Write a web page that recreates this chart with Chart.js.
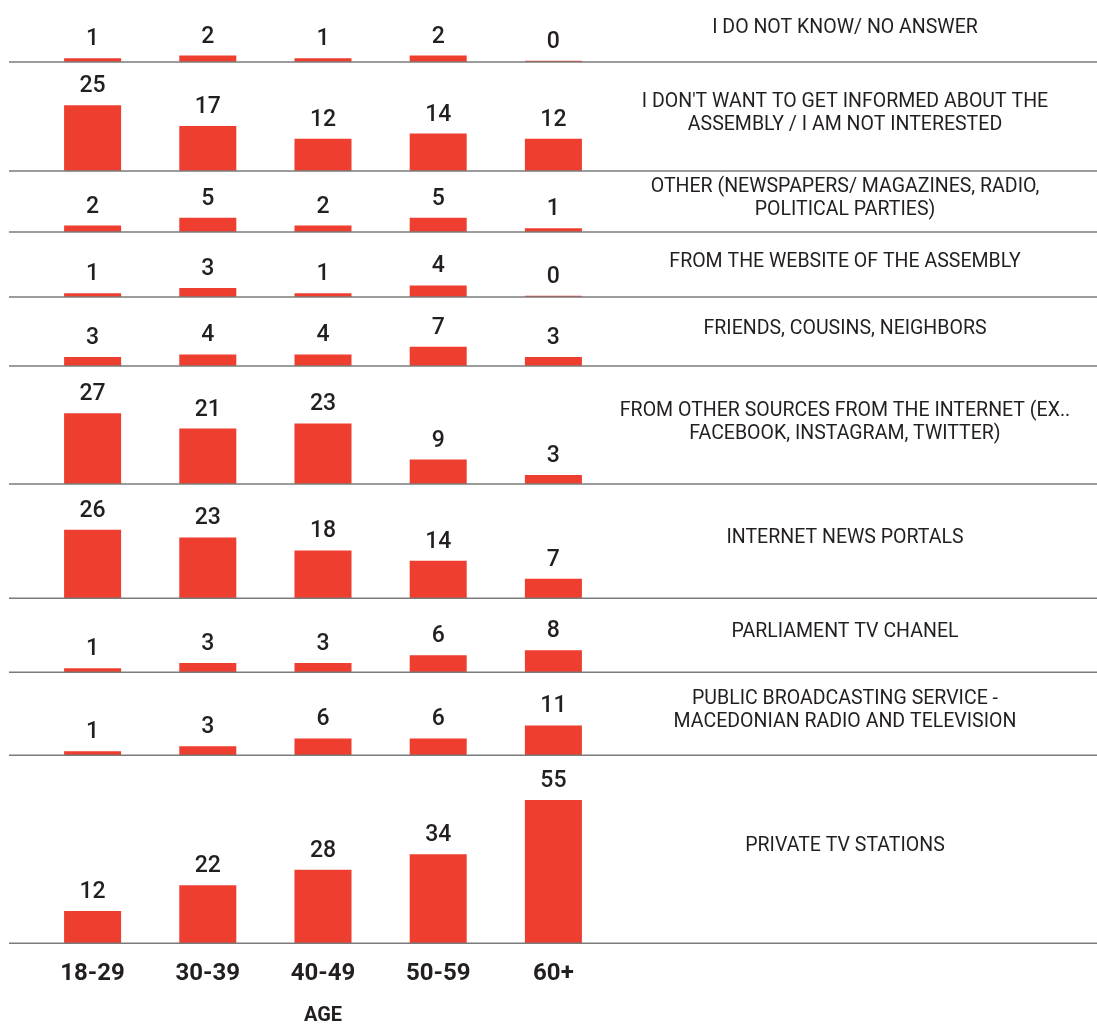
<!DOCTYPE html>
<html>
<head>
<meta charset="utf-8">
<script src="https://cdn.jsdelivr.net/npm/chart.js@4.4.1/dist/chart.umd.min.js"></script>
<style>
  html, body { margin: 0; padding: 0; background: #fff; }
  #wrap { width: 1097px; height: 1028px; }
</style>
</head>
<body>
<div id="wrap"><canvas id="grafico"></canvas></div>
<script>
// age groups on the x axis
const ageGroups = ['18-29', '30-39', '40-49', '50-59', '60+'];

// one row per source, top to bottom
const sources = [
    ['I DO NOT KNOW/ NO ANSWER'],
    ["I DON'T WANT TO GET INFORMED ABOUT THE", 'ASSEMBLY / I AM NOT INTERESTED'],
    ['OTHER (NEWSPAPERS/ MAGAZINES, RADIO,', 'POLITICAL PARTIES)'],
    ['FROM THE WEBSITE OF THE ASSEMBLY'],
    ['FRIENDS, COUSINS, NEIGHBORS'],
    ['FROM OTHER SOURCES FROM THE INTERNET (EX..', 'FACEBOOK, INSTAGRAM, TWITTER)'],
    ['INTERNET NEWS PORTALS'],
    ['PARLIAMENT TV CHANEL'],
    ['PUBLIC BROADCASTING SERVICE -', 'MACEDONIAN RADIO AND TELEVISION'],
    ['PRIVATE TV STATIONS']
];

const noAnswer     = [1, 2, 1, 2, 0];
const notInterest  = [25, 17, 12, 14, 12];
const other        = [2, 5, 2, 5, 1];
const website      = [1, 3, 1, 4, 0];
const friends      = [3, 4, 4, 7, 3];
const socialMedia  = [27, 21, 23, 9, 3];
const newsPortals  = [26, 23, 18, 14, 7];
const parliamentTv = [1, 3, 3, 6, 8];
const publicTv     = [1, 3, 6, 6, 11];
const privateTv    = [12, 22, 28, 34, 55];

const rows = [noAnswer, notInterest, other, website, friends,
              socialMedia, newsPortals, parliamentTv, publicTv, privateTv];

// layout: height of each row band in px, and px per unit
const rowHeights = [62, 109, 61, 65, 69, 118, 114, 74, 83, 188];
const PX = 2.58;
const BASE = -0.5;
const RED = '#ee3e2f';
const INK = '#231f20';

const datasets = rows.map((vals, i) => ({
    label: sources[i].join(' '),
    data: vals,
    yAxisID: 'y' + i,
    backgroundColor: RED,
    grouped: false,
    base: BASE,
    barPercentage: 0.495,
    categoryPercentage: 1
}));

const scales = {
    x: {
        grid: { display: false, drawTicks: false },
        border: { display: false },
        ticks: {
            color: INK,
            padding: 16,
            font: { family: 'Roboto', size: 24, weight: 'bold' }
        },
        title: {
            display: true,
            text: 'AGE',
            color: INK,
            padding: { top: 0, bottom: 0 },
            font: { family: 'Roboto', size: 20, weight: 'bold' }
        }
    }
};
// later axes get stacked on top, so add them bottom row first
for (let i = rows.length - 1; i >= 0; i--) {
    scales['y' + i] = {
        display: false,
        position: 'left',
        stack: 'rows',
        stackWeight: rowHeights[i],
        min: BASE,
        max: rowHeights[i] / PX + BASE
    };
}

const rowDecor = {
    id: 'rowDecor',
    afterDatasetsDraw(chart) {
        const ctx = chart.ctx;
        ctx.save();

        // separator lines
        ctx.strokeStyle = '#7b7b7b';
        ctx.lineWidth = 1.5;
        rows.forEach((_, i) => {
            const y = chart.scales['y' + i].bottom;
            ctx.beginPath();
            ctx.moveTo(9, y);
            ctx.lineTo(1097, y);
            ctx.stroke();
        });

        // values above the bars
        ctx.fillStyle = INK;
        ctx.font = '500 23px Roboto';
        ctx.textAlign = 'center';
        ctx.textBaseline = 'alphabetic';
        rows.forEach((vals, i) => {
            chart.getDatasetMeta(i).data.forEach((bar, j) => {
                ctx.fillText(String(vals[j]), bar.x, bar.y - 13);
            });
        });

        // source names on the right
        ctx.font = '400 21px Roboto';
        ctx.textBaseline = 'middle';
        sources.forEach((lines, i) => {
            const s = chart.scales['y' + i];
            const mid = (s.top + s.bottom) / 2 - 3;
            lines.forEach((ln, k) => {
                const y = mid + (k - (lines.length - 1) / 2) * 23;
                ctx.save();
                ctx.translate(845, y);
                ctx.scale(0.93, 1);
                ctx.fillText(ln, 0, 0);
                ctx.restore();
            });
        });
        ctx.restore();
    }
};

new Chart(document.getElementById('grafico'), {
    type: 'bar',
    data: { labels: ageGroups, datasets: datasets },
    options: {
        responsive: true,
        maintainAspectRatio: false,
        animation: false,
        layout: { padding: { left: 35, right: 486, top: 0, bottom: 0 } },
        plugins: {
            legend: { display: false },
            tooltip: { enabled: false }
        },
        scales: scales
    },
    plugins: [rowDecor]
});
</script>
</body>
</html>
